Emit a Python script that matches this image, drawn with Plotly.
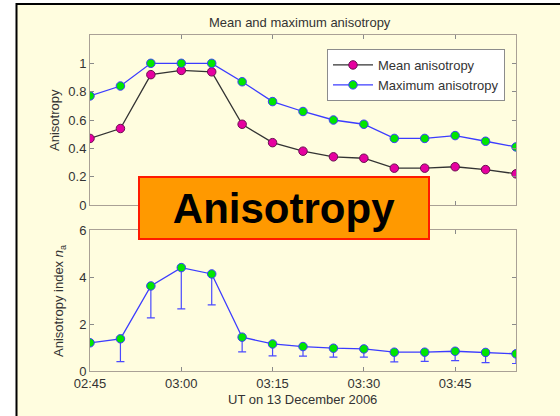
import plotly.graph_objects as go

# Sample times (UT, 13 December 2006), every 5 minutes
times = ["02:45", "02:50", "02:55", "03:00", "03:05", "03:10", "03:15", "03:20",
         "03:25", "03:30", "03:35", "03:40", "03:45", "03:50", "03:55"]
date = "2006-12-13"

mean_aniso = [0.47, 0.54, 0.92, 0.95, 0.94, 0.57, 0.44, 0.38,
              0.34, 0.33, 0.26, 0.26, 0.27, 0.25, 0.22]
max_aniso = [0.77, 0.84, 1.00, 1.00, 1.00, 0.87, 0.73, 0.66,
             0.60, 0.57, 0.47, 0.47, 0.49, 0.45, 0.41]

# Anisotropy index n_a and the lower end of its range
index_na = [1.20, 1.37, 3.62, 4.40, 4.13, 1.44, 1.15, 1.04,
            0.97, 0.94, 0.80, 0.80, 0.84, 0.79, 0.73]
index_low = [1.20, 0.40, 2.26, 2.64, 2.81, 0.81, 0.64, 0.63,
             0.59, 0.59, 0.39, 0.41, 0.44, 0.36, 0.32]

x_ticks = ["02:45", "03:00", "03:15", "03:30", "03:45"]
top_yticks = [0, 0.2, 0.4, 0.6, 0.8, 1]
bottom_yticks = [0, 2, 4, 6]

x = [f"{date} {t}" for t in times]
tickvals = [f"{date} {t}" for t in x_ticks]
x_range = [f"{date} 02:45", f"{date} 03:55"]

W, H = 560, 416
FONT = "Liberation Sans, Arial, sans-serif"
TXT = "#333333"
AX = "#aaa196"
PLOT_BG = "#fdebcd"
PAGE_BG = "#fffddf"


def px(v):
    return v / W


def py(v):
    return 1 - v / H


fig = go.Figure()

fig.add_trace(go.Scatter(
    x=x, y=mean_aniso, mode="lines+markers", name="Mean anisotropy",
    line=dict(color="#333333", width=1.3),
    marker=dict(size=8.5, color="#e600a0", line=dict(color="#6a1050", width=1)),
    xaxis="x", yaxis="y",
))
fig.add_trace(go.Scatter(
    x=x, y=max_aniso, mode="lines+markers", name="Maximum anisotropy",
    line=dict(color="#3c3cff", width=1.3),
    marker=dict(size=8.5, color="#00e600", line=dict(color="#3c3cff", width=1)),
    xaxis="x", yaxis="y",
))

minus = [round(v - lo, 3) for v, lo in zip(index_na, index_low)]
fig.add_trace(go.Scatter(
    x=x, y=index_na, mode="lines+markers", showlegend=False,
    line=dict(color="#3c3cff", width=1.3),
    marker=dict(size=8.5, color="#00e600", line=dict(color="#3c3cff", width=1)),
    error_y=dict(type="data", symmetric=False, array=[0] * len(index_na),
                 arrayminus=minus, color="#4a4aff", thickness=1.2, width=4),
    xaxis="x2", yaxis="y2",
))

axis_common = dict(
    showline=True, linecolor=AX, linewidth=1, mirror="ticks",
    ticks="inside", ticklen=4, tickcolor="#8a8a8a", tickwidth=1,
    showgrid=False, zeroline=False, automargin=False,
    tickfont=dict(family=FONT, size=13, color=TXT),
)

x_dom = [px(90), px(516)]

fig.update_layout(
    template="none",
    width=W, height=H,
    margin=dict(l=0, r=0, t=0, b=0, pad=0),
    paper_bgcolor="white",
    plot_bgcolor=PLOT_BG,
    font=dict(family=FONT, size=13, color=TXT),
    xaxis=dict(domain=x_dom, anchor="y", type="date", range=x_range,
               tickvals=tickvals, showticklabels=False, **axis_common),
    yaxis=dict(domain=[py(205), py(35)], anchor="x", range=[0, 1.2],
               tickvals=top_yticks, **axis_common),
    xaxis2=dict(domain=x_dom, anchor="y2", type="date", range=x_range,
                tickvals=tickvals, ticktext=x_ticks, **axis_common),
    yaxis2=dict(domain=[py(371), py(230)], anchor="x2", range=[0, 6],
                tickvals=bottom_yticks, **axis_common),
    legend=dict(x=px(327), y=py(49), xanchor="left", yanchor="top",
                bgcolor="white", bordercolor="#8c8c8c", borderwidth=1,
                font=dict(family=FONT, size=13, color=TXT),
                itemwidth=40, tracegroupgap=0),
    showlegend=True,
)

# Framed cream panel behind both axes
fig.add_shape(type="rect", xref="paper", yref="paper",
              x0=px(16.5), x1=px(W + 5), y0=py(H + 5), y1=py(4),
              fillcolor=PAGE_BG, line=dict(color="black", width=2),
              layer="below")

annotations = [
    dict(text="Mean and maximum anisotropy", x=px(300), y=py(22),
         font=dict(size=13, color=TXT)),
    dict(text="Anisotropy", x=px(55), y=py(120), textangle=-90,
         font=dict(size=13, color=TXT)),
    dict(text="Anisotropy index <i>n</i><sub>a</sub>", x=px(59), y=py(301),
         textangle=-90, font=dict(size=13, color=TXT)),
    dict(text="UT on 13 December 2006", x=px(302), y=py(399),
         font=dict(size=13, color=TXT)),
    dict(text="<b>Anisotropy</b>", x=px(284), y=py(208),
         font=dict(family="Liberation Sans, Arial, sans-serif", size=42,
                   color="black"),
         bgcolor="#ff9900", bordercolor="#ff1a00", borderwidth=2,
         borderpad=0, width=288, height=60),
]
for a in annotations:
    fig.add_annotation(xref="paper", yref="paper", showarrow=False,
                       xanchor="center", yanchor="middle", **a)

fig.write_html("out.html")
